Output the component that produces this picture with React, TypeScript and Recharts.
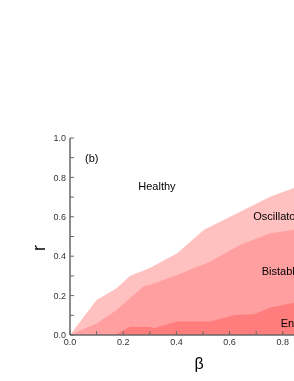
import React from 'react';
import { ComposedChart, Area, XAxis, YAxis } from 'recharts';

const outerBeta = [0, 0.1, 0.175, 0.225, 0.3, 0.403, 0.504, 0.604, 0.717, 0.754, 0.842, 0.92, 1.0];
const outerR = [0, 0.178, 0.237, 0.3, 0.34, 0.415, 0.534, 0.601, 0.678, 0.703, 0.746, 0.77, 0.8];

const midBeta = [0, 0.1, 0.175, 0.278, 0.3, 0.403, 0.528, 0.641, 0.754, 0.842, 0.92, 1.0];
const midR = [0, 0.059, 0.127, 0.249, 0.254, 0.305, 0.373, 0.458, 0.517, 0.534, 0.545, 0.56];

const innerBeta = [0, 0.17, 0.225, 0.3, 0.316, 0.403, 0.528, 0.616, 0.692, 0.754, 0.842, 0.92, 1.0];
const innerR = [0, 0, 0.042, 0.04, 0.034, 0.068, 0.068, 0.1, 0.105, 0.14, 0.164, 0.175, 0.19];

const xTicks = [0, 0.1, 0.2, 0.3, 0.4, 0.5, 0.6, 0.7, 0.8, 0.9, 1.0];
const yTicks = [0, 0.1, 0.2, 0.3, 0.4, 0.5, 0.6, 0.7, 0.8, 0.9, 1.0];

const regionLabels = ['(b)', 'Healthy', 'Oscillatory', 'Bistable', 'Endemic'];

type Row = { beta: number; outer?: number; mid?: number; inner?: number };

function buildTable(): Row[] {
  const map = new Map<number, Row>();
  const add = (bs: number[], rs: number[], key: 'outer' | 'mid' | 'inner') => {
    bs.forEach((b, i) => {
      const row = map.get(b) || { beta: b };
      row[key] = rs[i];
      map.set(b, row);
    });
  };
  add(outerBeta, outerR, 'outer');
  add(midBeta, midR, 'mid');
  add(innerBeta, innerR, 'inner');
  return Array.from(map.values()).sort((a, b) => a.beta - b.beta);
}

const data = buildTable();

const fmt = (v: number) => {
  const k = Math.round(v * 10);
  return k % 2 === 0 ? v.toFixed(1) : '';
};

const axisStroke = '#666';
const tickStyle = { fontSize: 9, fill: '#333', fontFamily: 'Liberation Sans, Arial, sans-serif' };
const labelFont = 'Liberation Sans, Arial, sans-serif';

const W = 332;
const H = 365;

export default function App() {
  return (
    <div style={{ width: 278, height: H }}>
      <div
        style={{
          position: 'fixed',
          left: 8,
          top: 8,
          width: 286,
          height: H,
          overflow: 'hidden',
        }}
      >
        <div style={{ position: 'relative', width: W, height: H }}>
          <ComposedChart
            width={W}
            height={H}
            data={data}
            margin={{ top: 130, right: 4, left: 0, bottom: 18 }}
          >
            <XAxis
              xAxisId="bottom"
              type="number"
              dataKey="beta"
              domain={[0, 1]}
              ticks={xTicks}
              tickFormatter={fmt}
              interval={0}
              orientation="bottom"
              height={20}
              tickSize={-4}
              tickMargin={7.5}
              tick={tickStyle}
              stroke={axisStroke}
              strokeWidth={1.5}
              tickLine={{ stroke: axisStroke, strokeWidth: 1 }}
            />
            <XAxis
              xAxisId="top"
              type="number"
              dataKey="beta"
              domain={[0, 1]}
              ticks={xTicks}
              tickFormatter={() => ''}
              interval={0}
              orientation="top"
              height={0}
              tickSize={-4}
              stroke={axisStroke}
              strokeWidth={1.5}
              tickLine={{ stroke: axisStroke, strokeWidth: 1 }}
            />
            <YAxis
              type="number"
              domain={[0, 1]}
              ticks={yTicks}
              tickFormatter={fmt}
              interval={0}
              width={62}
              tickSize={-4}
              tickMargin={8}
              tick={tickStyle}
              stroke={axisStroke}
              strokeWidth={1.5}
              tickLine={{ stroke: axisStroke, strokeWidth: 1 }}
            />
            <Area
              xAxisId="bottom"
              type="linear"
              dataKey="outer"
              fill="#FFC0C0"
              fillOpacity={1}
              stroke="none"
              connectNulls
              isAnimationActive={false}
            />
            <Area
              xAxisId="bottom"
              type="linear"
              dataKey="mid"
              fill="#FF9F9F"
              fillOpacity={1}
              stroke="none"
              connectNulls
              isAnimationActive={false}
            />
            <Area
              xAxisId="bottom"
              type="linear"
              dataKey="inner"
              fill="#FF7D7D"
              fillOpacity={1}
              stroke="none"
              connectNulls
              isAnimationActive={false}
            />
          </ComposedChart>
          <svg
            width={W}
            height={H}
            style={{ position: 'absolute', left: 0, top: 0, pointerEvents: 'none' }}
          >
            <text x={77} y={153.7} fontSize={11} fontFamily={labelFont} fill="#000">{regionLabels[0]}</text>
            <text x={130.3} y={182} fontSize={11} fontFamily={labelFont} fill="#000">{regionLabels[1]}</text>
            <text x={245.3} y={212} fontSize={11} fontFamily={labelFont} fill="#000">{regionLabels[2]}</text>
            <text x={253.7} y={267} fontSize={11} fontFamily={labelFont} fill="#000">{regionLabels[3]}</text>
            <text x={272.7} y={318.7} fontSize={11} fontFamily={labelFont} fill="#000">{regionLabels[4]}</text>
            <text x={31} y={240} fontSize={18} fontFamily={labelFont} fill="#000" textAnchor="middle" dominantBaseline="central" transform="rotate(-90 31 240)">r</text>
            <text x={191} y={361} fontSize={16} fontFamily={labelFont} fill="#000" textAnchor="middle">β</text>
          </svg>
        </div>
      </div>
    </div>
  );
}
